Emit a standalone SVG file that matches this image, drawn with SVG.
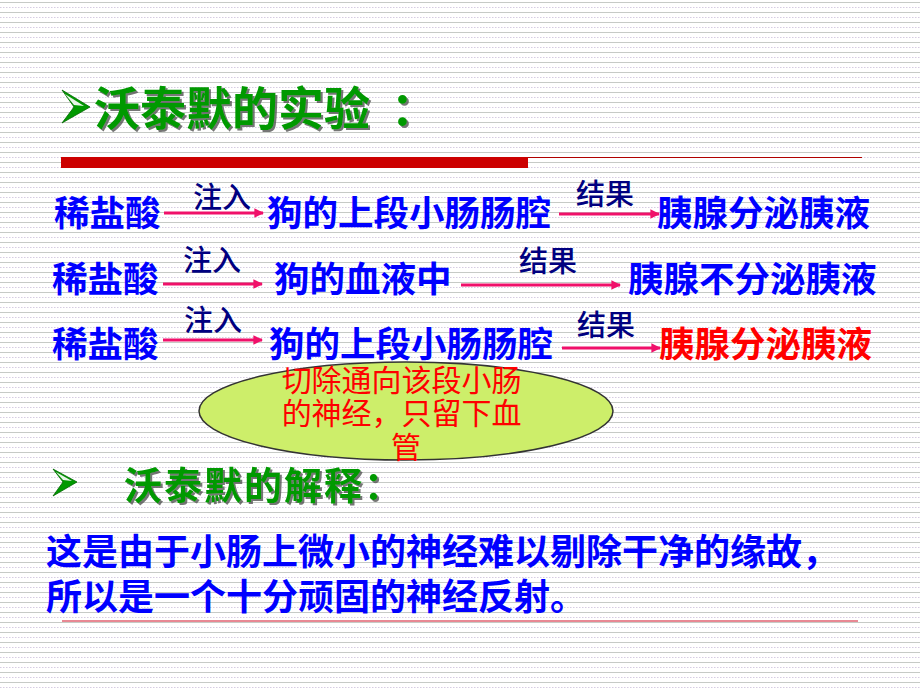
<svg xmlns="http://www.w3.org/2000/svg" width="920" height="690" viewBox="0 0 920 690">
<defs>
<pattern id="bg" width="920" height="10" patternUnits="userSpaceOnUse">
<rect width="920" height="10" fill="#ffffff"/>
<line x1="0" y1="2.5" x2="920" y2="2.5" stroke="#c6cac6" stroke-width="1"/>
<line x1="0" y1="7.5" x2="920" y2="7.5" stroke="#d6cce2" stroke-width="1" stroke-dasharray="1.5 1.5"/>
</pattern>
<marker id="ah" viewBox="0 0 10 10" refX="9" refY="5" markerWidth="3.2" markerHeight="3.2" orient="auto" markerUnits="strokeWidth">
<path d="M0,0 L10,5 L0,10 Z" fill="#f0106a"/>
</marker>
<filter id="sh" x="-5%" y="-10%" width="115%" height="130%">
<feDropShadow dx="2" dy="2" stdDeviation="0.6" flood-color="#555555" flood-opacity="0.8"/>
</filter>
</defs>
<style>
text{font-family:"Noto Sans CJK SC","Noto Sans CJK JP",sans-serif;}
.blue{fill:#0000ff;font-size:35.5px;font-weight:bold;}
.lab{fill:#000080;font-size:29px;font-weight:500;}
.green{fill:#009900;font-weight:bold;filter:url(#sh);}
.red{fill:#ff0000;}
.conn{stroke:#f0106a;stroke-width:3;fill:none;marker-end:url(#ah);}
.bullet{fill:#009900;stroke:#006600;stroke-width:0.8;}
</style>
<rect width="920" height="690" fill="url(#bg)"/>

<g id="header">
<polygon class="bullet" points="62,90 90,107 62,123 74,107"/>
<polygon points="65,94 84,106 74,105" fill="#e8f5e8"/>
<text class="green" x="94" y="125" font-size="46">沃泰默的实验 <tspan x="391">：</tspan></text>
<rect x="61" y="157" width="467" height="11" fill="#cc0000"/>
<line x1="528" y1="157.5" x2="862" y2="157.5" stroke="#b00000" stroke-width="1.2"/>
</g>

<g id="connectors">
<line class="conn" x1="164" y1="213" x2="263" y2="213"/>
<line class="conn" x1="559" y1="214" x2="659" y2="214"/>
<line class="conn" x1="163" y1="284" x2="262" y2="284"/>
<line class="conn" x1="461" y1="285" x2="620" y2="285"/>
<line class="conn" x1="163" y1="340" x2="262" y2="340"/>
<line class="conn" x1="562" y1="348" x2="660" y2="348"/>
</g>

<g id="row1">
<text class="blue" x="54" y="226">稀盐酸</text>
<text class="lab" x="193" y="208">注入</text>
<text class="blue" x="267" y="226">狗的上段小肠肠腔</text>
<text class="lab" x="576" y="205">结果</text>
<text class="blue" x="657" y="226">胰腺分泌胰液</text>
</g>

<g id="row2">
<text class="blue" x="52" y="292">稀盐酸</text>
<text class="lab" x="183" y="271">注入</text>
<text class="blue" x="274" y="292">狗的血液中</text>
<text class="lab" x="519" y="272">结果</text>
<text class="blue" x="628" y="292">胰腺不分泌胰液</text>
</g>

<g id="row3">
<text class="blue" x="52" y="357">稀盐酸</text>
<text class="lab" x="184" y="331">注入</text>
<text class="blue" x="269" y="357">狗的上段小肠肠腔</text>
<text class="lab" x="577" y="336">结果</text>
<text class="blue red" x="659" y="357">胰腺分泌胰液</text>
</g>

<g id="note">
<ellipse cx="406" cy="411" rx="207" ry="49" fill="#cdee6a" stroke="#333333" stroke-width="1.5"/>
<text class="red" font-size="30" text-anchor="middle">
<tspan x="405" y="391">切除通向该段小肠</tspan>
<tspan x="405" y="424">的神经，只留下血</tspan>
<tspan x="406" y="458">管</tspan>
</text>
</g>

<g id="explanation">
<polygon class="bullet" points="53,469 77,482 53,496 63,482"/>
<polygon points="56,472 72,481 63,480" fill="#e8f5e8"/>
<text class="green" x="124" y="499" font-size="38" letter-spacing="2">沃泰默的解释：</text>
<text fill="#0000ff" font-size="36" font-weight="bold">
<tspan x="46" y="565">这是由于小肠上微小的神经难以剔除干净的缘故，</tspan>
<tspan x="46" y="610">所以是一个十分顽固的神经反射。</tspan>
</text>
<line x1="62" y1="621" x2="858" y2="621" stroke="#e06070" stroke-width="1.6"/>
</g>
</svg>
